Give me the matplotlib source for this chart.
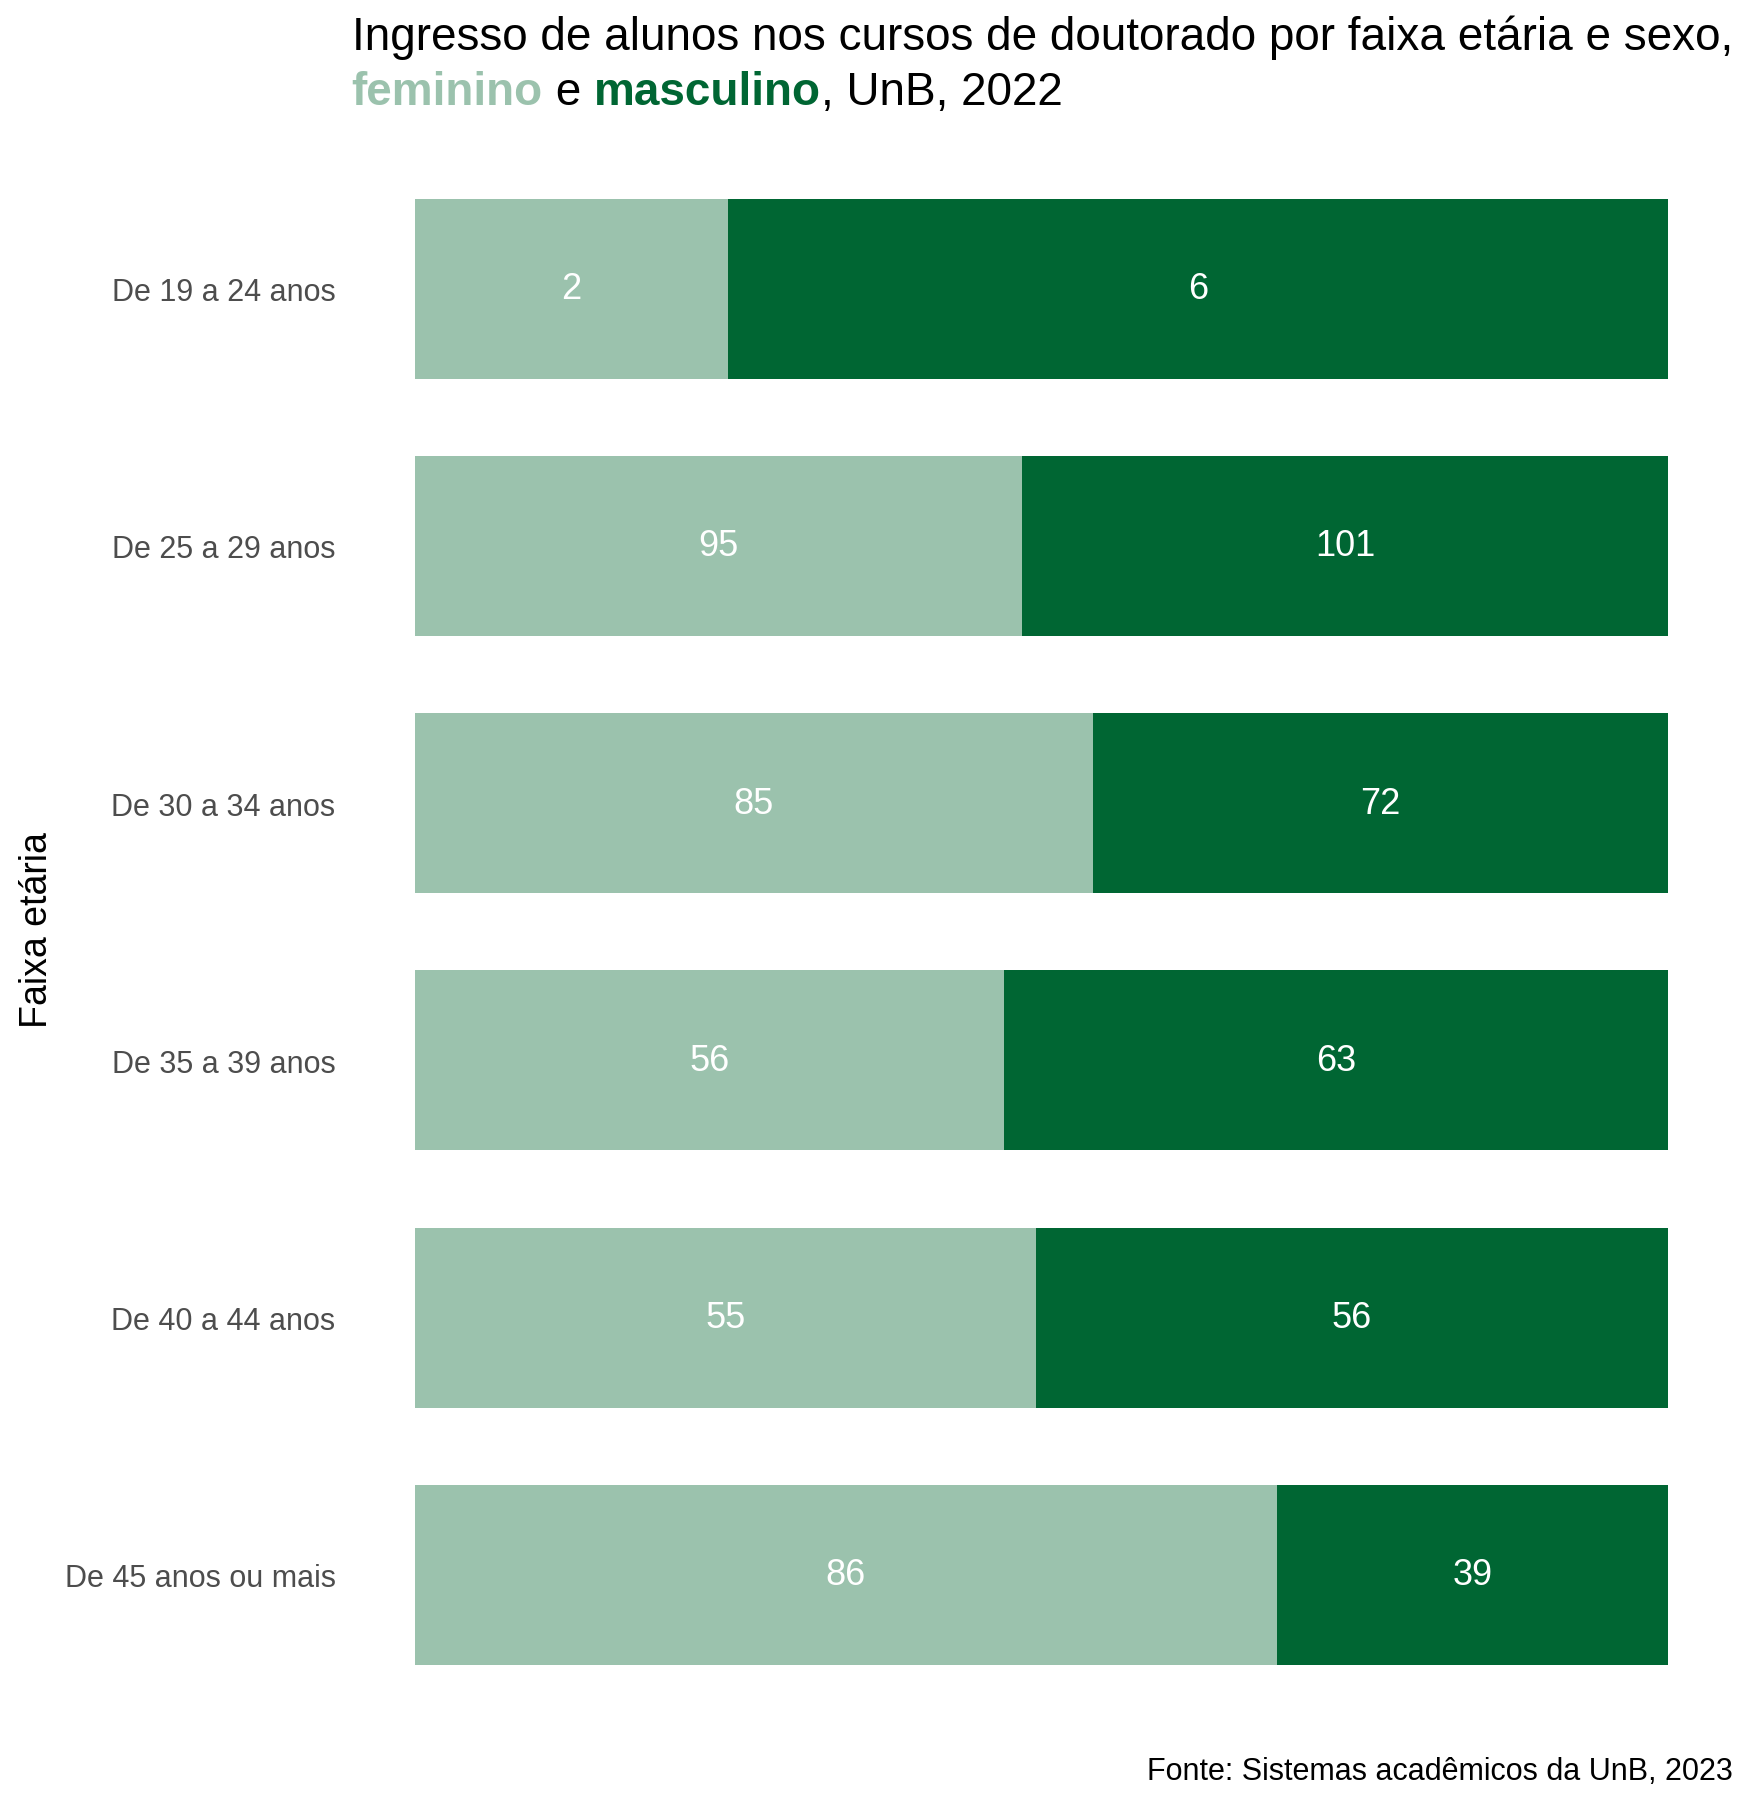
import matplotlib.pyplot as plt
import numpy as np

plt.rcParams['font.family'] = ['Liberation Sans', 'DejaVu Sans']

# dados
faixas = ['De 19 a 24 anos', 'De 25 a 29 anos', 'De 30 a 34 anos',
          'De 35 a 39 anos', 'De 40 a 44 anos', 'De 45 anos ou mais']
feminino = [2, 95, 85, 56, 55, 86]
masculino = [6, 101, 72, 63, 56, 39]

cor_fem = '#9BC2AD'
cor_masc = '#006633'

fem = np.array(feminino, dtype=float)
masc = np.array(masculino, dtype=float)
total = fem + masc
p_fem = fem / total
p_masc = masc / total

fig = plt.figure(figsize=(17.5, 18.06), dpi=100)
ax = fig.add_axes([0.237, 0.042, 0.716, 0.883])

y = np.arange(len(faixas))
ax.barh(y, p_fem, height=0.7, color=cor_fem)
ax.barh(y, p_masc, left=p_fem, height=0.7, color=cor_masc)

# rótulos dentro das barras
for i in range(len(faixas)):
    ax.text(p_fem[i] / 2, y[i], str(feminino[i]), ha='center', va='center',
            color='white', fontsize=26)
    ax.text(p_fem[i] + p_masc[i] / 2, y[i], str(masculino[i]), ha='center',
            va='center', color='white', fontsize=26)

ax.set_xlim(0, 1)
ax.set_ylim(5.6, -0.6)
ax.set_yticks(y)
ax.set_yticklabels(faixas, fontsize=22, color='#4D4D4D')
ax.set_xticks([])
ax.tick_params(axis='y', length=0, pad=57)
for s in ax.spines.values():
    s.set_visible(False)

fig.text(0.021, 0.485, 'Faixa etária', rotation=90, ha='center', va='center',
         fontsize=27, color='black')

# título com cores
fig.text(0.201, 1 - 50 / 1806, 'Ingresso de alunos nos cursos de doutorado por faixa etária e sexo,',
         fontsize=33, color='black', va='baseline', ha='left')
partes = [('feminino', cor_fem, 'bold'), (' e ', 'black', 'normal'),
          ('masculino', cor_masc, 'bold'), (', UnB, 2022', 'black', 'normal')]
fig.canvas.draw()
r = fig.canvas.get_renderer()
x0 = 0.201
for txt, cor, peso in partes:
    t = fig.text(x0, 1 - 105 / 1806, txt, fontsize=33, color=cor, fontweight=peso,
                 va='baseline', ha='left')
    bb = t.get_window_extent(renderer=r)
    x0 += bb.width / fig.bbox.width

fig.text(0.99, 1 - 1780 / 1806, 'Fonte: Sistemas acadêmicos da UnB, 2023',
         fontsize=22, color='black', ha='right', va='baseline')

fig.savefig('out.png', dpi=100, facecolor='white')
